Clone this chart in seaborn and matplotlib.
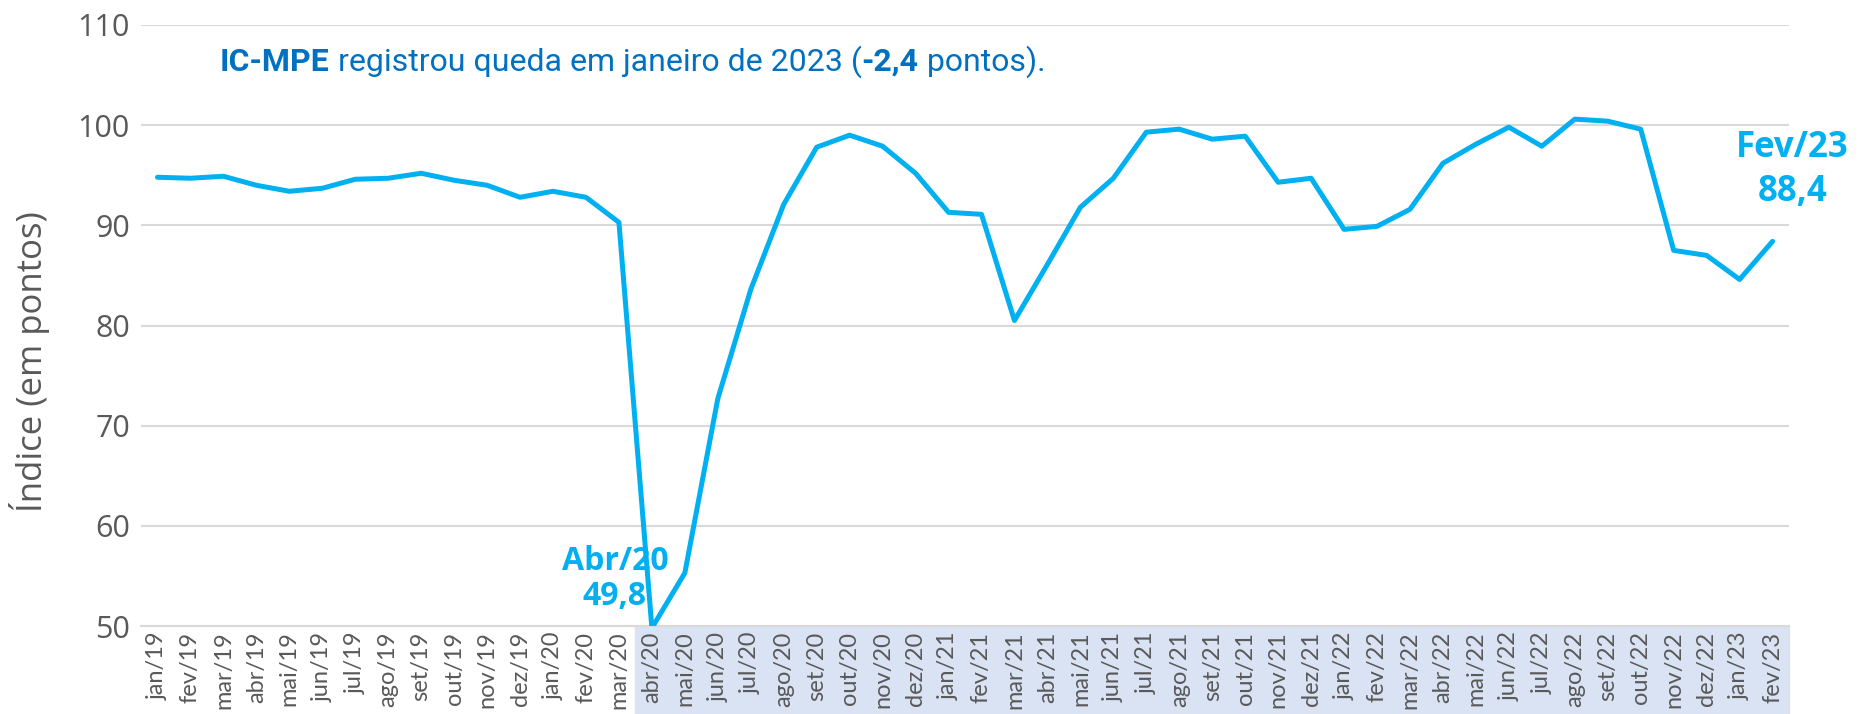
import numpy as np
import pandas as pd
import seaborn as sns
import matplotlib
matplotlib.use("Agg")
import matplotlib.pyplot as plt
from matplotlib.ticker import FixedLocator

# IC-MPE monthly values (jan/19 .. fev/23)
meses = ['jan', 'fev', 'mar', 'abr', 'mai', 'jun', 'jul', 'ago', 'set', 'out', 'nov', 'dez']
labels = [m + '/' + a for a in ['19', '20', '21', '22'] for m in meses] + ['jan/23', 'fev/23']
values = [94.8, 94.7, 94.9, 94.0, 93.4, 93.7, 94.6, 94.7, 95.2, 94.5, 94.0, 92.8,
          93.4, 92.8, 90.3, 49.8, 55.3, 72.7, 83.6, 92.1, 97.8, 99.0, 97.9, 95.2,
          91.3, 91.1, 80.5, 86.1, 91.8, 94.7, 99.3, 99.6, 98.6, 98.9, 94.3, 94.7,
          89.6, 89.9, 91.6, 96.2, 98.1, 99.8, 97.9, 100.6, 100.4, 99.6, 87.5, 87.0,
          84.6, 88.4]
yticks = [50, 60, 70, 80, 90, 100, 110]

title_parts = [('IC-MPE', 'bold'), (' registrou queda em janeiro de 2023 (', 'normal'),
               ('-2,4', 'bold'), (' pontos).', 'normal')]

LINE = '#00B0F0'
GRID = '#D9D9D9'
TXT = '#595959'

df = pd.DataFrame({'idx': np.arange(len(values)), 'mes': labels, 'valor': values})

sns.set_theme(style='white')
plt.rcParams['font.family'] = ['Lato', 'DejaVu Sans']

fig = plt.figure(figsize=(18.7, 7.14), dpi=100)
ax = fig.add_axes([0.0754, 0.1232, 0.8813, 0.8418])

sns.lineplot(data=df, x='idx', y='valor', color=LINE, linewidth=3.6, ax=ax, zorder=3)

ax.set_xlim(-0.5, len(values) - 0.5)
ax.set_ylim(50, 110)
ax.set_yticks(yticks)
ax.set_yticklabels([str(v) for v in yticks], fontsize=22, color=TXT,
                   family=['Open Sans', 'DejaVu Sans'])
ax.yaxis.grid(True, color=GRID, linewidth=1.5)
ax.tick_params(axis='y', length=0, pad=8)

ax.set_xticks(df['idx'])
ax.set_xticklabels(labels, rotation=90, fontsize=17, color=TXT)
ax.tick_params(axis='x', which='major', length=0, pad=4)
ax.xaxis.set_minor_locator(FixedLocator(np.arange(len(values) + 1) - 0.5))
ax.tick_params(axis='x', which='minor', length=8, width=1.5, color=GRID, direction='out')

for s in ['top', 'right', 'left']:
    ax.spines[s].set_visible(False)
ax.spines['bottom'].set_color(GRID)
ax.spines['bottom'].set_linewidth(1.5)

ax.set_xlabel('')
ax.set_ylabel('Índice (em pontos)', fontsize=25, color=TXT,
              family=['Open Sans', 'DejaVu Sans'])
ax.yaxis.set_label_coords(-0.055, 0.44)

# shaded band under the axis from abr/20 onwards
ax.axvspan(labels.index('abr/20') - 0.5, len(values) - 0.5, ymin=-0.147, ymax=0,
           color='#DAE3F3', clip_on=False, zorder=0)

# annotations
i_min = labels.index('abr/20')
ax.text(i_min - 1.12, 54.7, 'Abr/20\n' + f'{values[i_min]:.1f}'.replace('.', ','),
        ha='center', va='center', fontsize=23, fontweight='bold', color=LINE,
        linespacing=1.1, family=['Open Sans', 'DejaVu Sans'], zorder=4)
i_last = len(values) - 1
ax.text(i_last + 0.6, 95.5, 'Fev/23\n' + f'{values[i_last]:.1f}'.replace('.', ','),
        ha='center', va='center', fontsize=25, fontweight='bold', color=LINE,
        linespacing=1.3, family=['Open Sans', 'DejaVu Sans'], clip_on=False, zorder=4)

# headline with mixed weights
fig.canvas.draw()
renderer = fig.canvas.get_renderer()
x = 0.1176
for txt, w in title_parts:
    t = fig.text(x, 0.9006, txt, fontsize=23, fontweight=w, color='#0070C0',
                 va='baseline', family=['Liberation Sans Narrow', 'Roboto', 'DejaVu Sans'])
    bb = t.get_window_extent(renderer)
    x = bb.x1 / fig.bbox.width

fig.savefig('out.png', dpi=100)
